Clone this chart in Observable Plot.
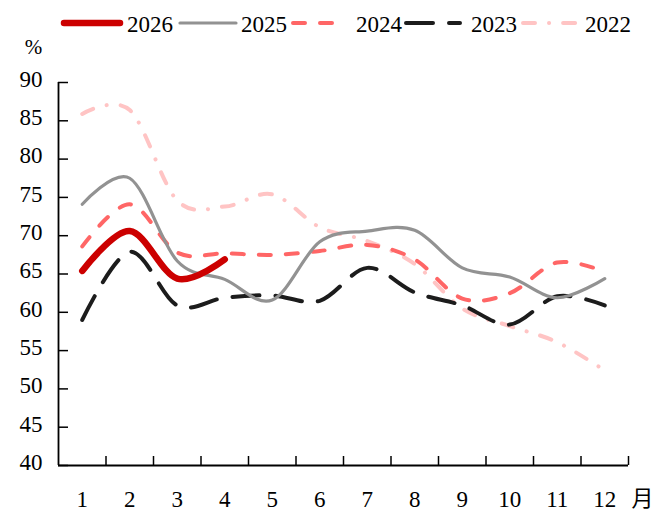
<!DOCTYPE html>
<html><head><meta charset="utf-8">
<script src="https://cdn.jsdelivr.net/npm/d3@7"></script>
<script src="https://cdn.jsdelivr.net/npm/@observablehq/plot@0.6"></script>
<style>
body{margin:0;background:#fff;font-family:"Liberation Serif","Times New Roman",serif;}
#legend{position:relative;height:36px;width:667px;}
#legend svg{display:block;}
</style></head><body>
<div id="legend"></div>
<div id="chart"></div>
<script>
const months = [1,2,3,4,5,6,7,8,9,10,11,12];
const years = ["2026","2025","2024","2023","2022"];
const v2026 = [65.4,70.6,64.4,66.9];
const v2025 = [74.1,77.5,66.7,64.3,61.6,69.2,70.6,70.7,65.8,64.6,61.9,64.4];
const v2024 = [68.6,74.1,67.8,67.7,67.5,68.0,68.8,66.9,61.8,62.5,66.5,65.3];
const v2023 = [59.0,67.9,60.9,61.9,62.2,61.5,65.8,62.6,60.9,58.4,62.1,60.9];
const v2022 = [85.9,86.4,74.6,73.8,75.4,71.1,69.3,66.3,60.5,58.2,56.1,52.4];
const yTicks = [40,45,50,55,60,65,70,75,80,85,90];
const colors = ["#cc0000","#929292","#ff6666","#1c1c1c","#ffc4c4"];
const widths = [6.5,3.2,4,4,4];
const dashes = ["none","none","12,15","27,16","12,14,0.1,14"];
const values = [v2026,v2025,v2024,v2023,v2022];
const FONT = "'Liberation Serif','Times New Roman',serif";

const rows = [];
years.forEach((y,i)=>values[i].forEach((v,j)=>rows.push({year:y, m:months[j], v})));
const bounds = months.map(m=>m+0.5);

// legend
const legendX = [[64,120,127],[180,236,241],[293,345,356],[406,460,471],[523,580,585]];
const lsvg = d3.select("#legend").append("svg").attr("width",667).attr("height",36);
years.forEach((y,i)=>{
  const [a,b,t] = legendX[i];
  lsvg.append("line").attr("x1",a).attr("x2",b).attr("y1",23).attr("y2",23)
    .attr("stroke",colors[i]).attr("stroke-width",widths[i]).attr("stroke-linecap","round")
    .attr("stroke-dasharray",dashes[i]);
  lsvg.append("text").attr("x",t).attr("y",31.5).text(y)
    .attr("font-family",FONT).attr("font-size",23).attr("fill","#000");
});

const lineMarks = years.map((y,i)=>({y,i})).reverse().map(({y,i})=>
  Plot.line(rows.filter(r=>r.year===y), {x:"m", y:"v", stroke:colors[i], strokeWidth:widths[i],
    strokeDasharray:dashes[i], strokeLinecap:"round", strokeLinejoin:"round", curve:"cardinal"}));

const chart = Plot.plot({
  width: 667, height: 478,
  marginLeft: 58, marginRight: 39, marginTop: 46, marginBottom: 49,
  x: {type:"linear", domain:[0.5,12.5]},
  y: {domain:[40,90]},
  style: {fontFamily:FONT, fontSize:"23px", color:"#000", background:"#fff"},
  marks: [
    Plot.axisY(yTicks, {tickSize:0, tickPadding:16, fontSize:23, dy:-3, label:null, fontFamily:FONT}),
    Plot.axisX(months, {tickSize:0, tickPadding:25, fontSize:23, label:null, fontFamily:FONT}),
    Plot.tickY(yTicks, {y:d=>d, insetRight:560, stroke:"#000", strokeWidth:1.5}),
    Plot.tickX(bounds, {x:d=>d, insetTop:374, stroke:"#000", strokeWidth:1.5}),
    Plot.ruleX([0.5], {stroke:"#000", strokeWidth:1.8}),
    Plot.ruleY([40], {stroke:"#000", strokeWidth:1.8}),
    ...lineMarks,
    Plot.text(["%"], {frameAnchor:"top-left", textAnchor:"middle", lineAnchor:"middle", dx:-25, dy:-35, fontSize:21, fill:"#000", fontFamily:FONT}),
    Plot.text(["月"], {frameAnchor:"bottom-right", textAnchor:"middle", lineAnchor:"middle", dx:14, dy:33, fontSize:22, fill:"#000", fontFamily:"'Noto Sans CJK SC',sans-serif"})
  ]
});
document.getElementById("chart").appendChild(chart);
</script>
</body></html>
